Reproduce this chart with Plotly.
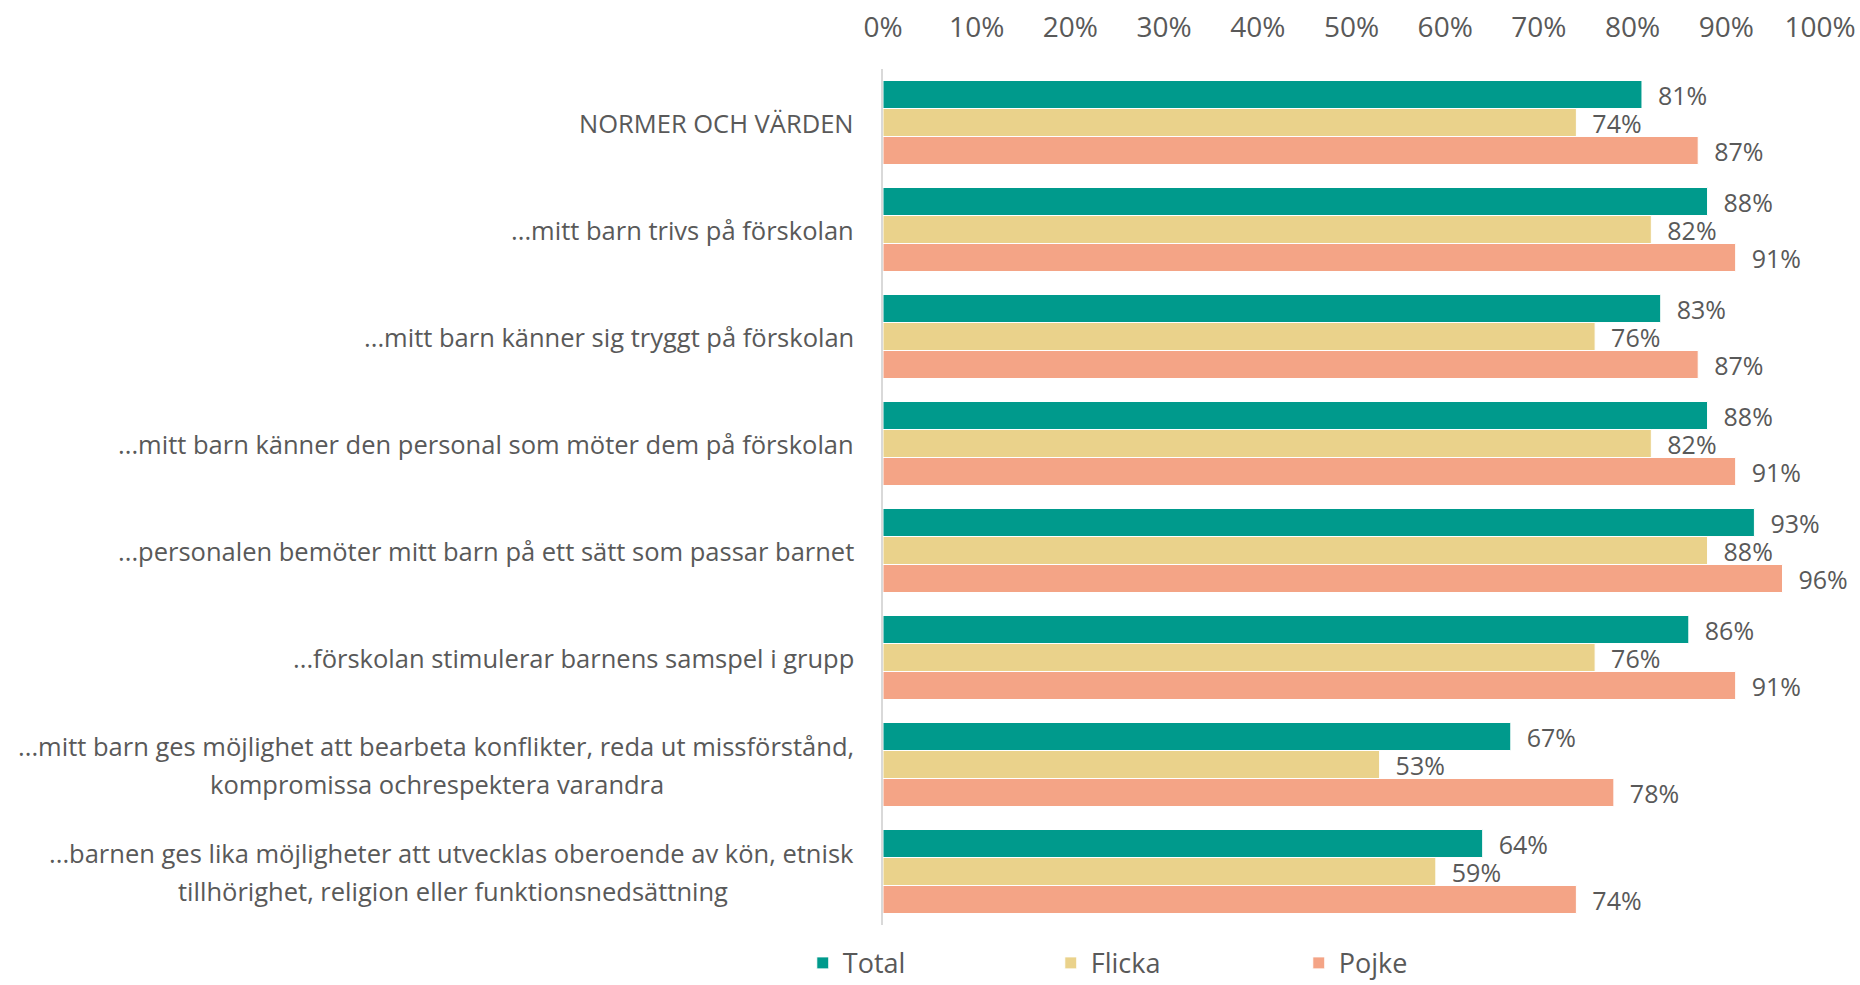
import plotly.graph_objects as go

categories = [
    "NORMER OCH VÄRDEN",
    "...mitt barn trivs på förskolan",
    "...mitt barn känner sig tryggt på förskolan",
    "...mitt barn känner den personal som möter dem på förskolan",
    "...personalen bemöter mitt barn på ett sätt som passar barnet",
    "...förskolan stimulerar barnens samspel i grupp",
    "...mitt barn ges möjlighet att bearbeta konflikter, reda ut missförstånd,<br>kompromissa ochrespektera varandra",
    "...barnen ges lika möjligheter att utvecklas oberoende av kön, etnisk<br>tillhörighet, religion eller funktionsnedsättning",
]
total = [0.81, 0.88, 0.83, 0.88, 0.93, 0.86, 0.67, 0.64]
flicka = [0.74, 0.82, 0.76, 0.82, 0.88, 0.76, 0.53, 0.59]
pojke = [0.87, 0.91, 0.87, 0.91, 0.96, 0.91, 0.78, 0.74]
tick_vals = [i / 10 for i in range(11)]
tick_text = [f"{i*10}%" for i in range(11)]

series = [("Total", total, "#009A8C"), ("Flicka", flicka, "#EAD28B"), ("Pojke", pojke, "#F4A486")]

FONT = "Open Sans"
GREY = "#595959"

fig = go.Figure()
for name, vals, col in series:
    fig.add_trace(go.Bar(
        y=categories, x=vals, name=name, orientation="h",
        marker=dict(color=col, line=dict(color="white", width=1)),
        text=[f"\u00a0\u00a0{round(v*100)}%" for v in vals],
        textposition="outside", cliponaxis=False, constraintext="none",
        textfont=dict(family=FONT, size=25, color=GREY),
        hoverinfo="skip",
    ))

LABEL_X = -0.029
# paper-x centre for the (shorter) second line of wrapped labels
SECOND_LINE_CENTER = {6: -0.4755, 7: -0.4585}
for k, c in enumerate(categories):
    lines = c.split("<br>")
    if len(lines) == 1:
        fig.add_annotation(
            x=LABEL_X, y=c, xref="paper", yref="y", text=c, showarrow=False,
            xanchor="right", yanchor="middle", align="center",
            font=dict(family=FONT, size=25.5, color=GREY),
        )
    else:
        fig.add_annotation(
            x=LABEL_X, y=c, xref="paper", yref="y", text=lines[0], showarrow=False,
            xanchor="right", yanchor="middle", yshift=19,
            font=dict(family=FONT, size=25.5, color=GREY),
        )
        fig.add_annotation(
            x=SECOND_LINE_CENTER[k], y=c, xref="paper", yref="y", text=lines[1],
            showarrow=False, xanchor="center", yanchor="middle", yshift=-19,
            font=dict(family=FONT, size=25.5, color=GREY),
        )

fig.update_layout(
    width=1860, height=985,
    margin=dict(l=883, r=40, t=69, b=60, autoexpand=False),
    paper_bgcolor="white", plot_bgcolor="white",
    barmode="group", bargap=0.215, bargroupgap=0,
    font=dict(family=FONT, color=GREY),
    showlegend=True,
    legend=dict(
        orientation="h", xref="container", yref="container",
        x=0.4316, y=0.022, xanchor="left", yanchor="middle",
        font=dict(family=FONT, size=27, color=GREY),
        entrywidth=203, entrywidthmode="pixels",
        traceorder="normal",
    ),
    xaxis=dict(
        range=[0, 1], side="top", tickvals=tick_vals, ticktext=tick_text,
        showgrid=False, zeroline=False, showline=False, ticks="",
        ticklabelstandoff=25, automargin=False,
        tickfont=dict(family=FONT, size=28, color=GREY),
    ),
    yaxis=dict(
        autorange="reversed", showticklabels=False, showgrid=False, automargin=False,
        showline=True, linecolor="#D9D9D9", linewidth=2, ticks="", zeroline=False,
    ),
)

fig.write_html("out.html")
